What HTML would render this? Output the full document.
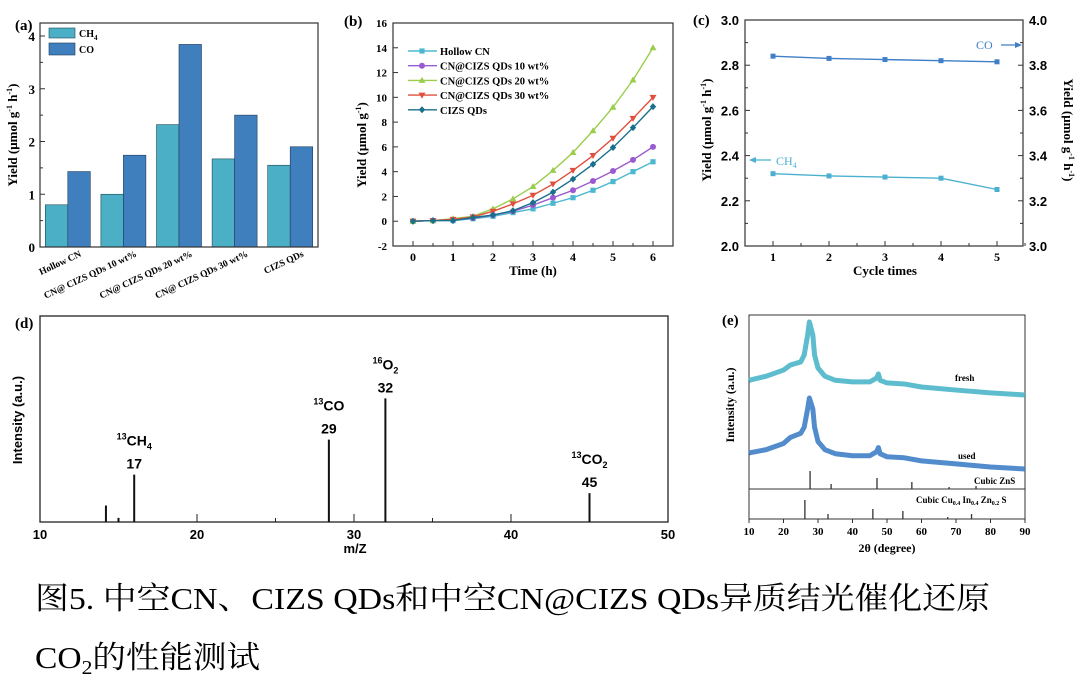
<!DOCTYPE html>
<html><head><meta charset="utf-8"><style>
html,body{margin:0;padding:0;background:#fff;}
svg{display:block;}
.tf{font-family:"Liberation Serif","Noto Serif CJK SC",serif;font-weight:bold;}
.af{font-family:"Liberation Sans",sans-serif;font-weight:bold;}
</style></head><body>
<svg id="fig" width="1080" height="693" viewBox="0 0 1080 693" xmlns="http://www.w3.org/2000/svg">
<g id="ga"></g>
<g id="gb"></g>
<g id="gc"></g>
<g id="gd"></g>
<g id="ge"></g>
<text x="35" y="609" font-family="'Liberation Serif','Noto Serif CJK SC',serif" font-size="31" textLength="955" lengthAdjust="spacingAndGlyphs">图5. 中空CN、CIZS QDs和中空CN@CIZS QDs异质结光催化还原</text>
<text x="35" y="668" font-family="'Liberation Serif','Noto Serif CJK SC',serif" font-size="31" textLength="225" lengthAdjust="spacingAndGlyphs">CO<tspan font-size="20" dy="6">2</tspan><tspan dy="-6">的性能测试</tspan></text>
</svg>
<script>
// ---- Panel a data
const aCategories = ["Hollow CN","CN@ CIZS QDs 10 wt%","CN@ CIZS QDs 20 wt%","CN@ CIZS QDs 30 wt%","CIZS QDs"];
const aCH4 = [0.8,1.0,2.32,1.67,1.55];
const aCO = [1.43,1.74,3.84,2.5,1.9];
const aTicks = [0,1,2,3,4];
// ---- Panel b data
const bTimes = [0,0.5,1,1.5,2,2.5,3,3.5,4,4.5,5,5.5,6];
const bHollow = [0,0.05,0.05,0.2,0.4,0.7,1.0,1.45,1.9,2.5,3.2,4.0,4.8];
const b10 = [0,0.05,0.1,0.25,0.5,0.8,1.3,1.9,2.5,3.25,4.05,4.95,6.0];
const b20 = [0,0.05,0.2,0.4,1.0,1.8,2.8,4.1,5.55,7.3,9.2,11.4,14.0];
const b30 = [0,0.05,0.15,0.35,0.8,1.4,2.1,3.0,4.1,5.3,6.7,8.3,10.0];
const bCIZS = [0,0.05,0.05,0.3,0.5,0.85,1.5,2.35,3.4,4.6,5.95,7.55,9.25];
const bNames = ["Hollow CN","CN@CIZS QDs 10 wt%","CN@CIZS QDs 20 wt%","CN@CIZS QDs 30 wt%","CIZS QDs"];
const bYTicks = [-2,0,2,4,6,8,10,12,14,16];
const bXTicks = [0,1,2,3,4,5,6];
// ---- Panel c data
const cCycles = [1,2,3,4,5];
const cCH4 = [2.32,2.31,2.305,2.30,2.25];
const cCO = [3.84,3.83,3.825,3.82,3.815];
const cLeftTicks = [2.0,2.2,2.4,2.6,2.8,3.0];
const cRightTicks = [3.0,3.2,3.4,3.6,3.8,4.0];
// ---- Panel d data
const dMass = [14.2,15,16,28.4,32,45];
const dIntensity = [0.08,0.02,0.23,0.40,0.60,0.14];
const dXTicks = [10,20,30,40,50];
// ---- Panel e data
const eAngles = [10,15,20,22,25,26,27,27.5,28.5,29,30,32,35,40,45,47,47.5,48,50,55,60,70,80,90];
const eFresh = [68,70,73,75.5,77,80.4,90.2,96.6,90.2,80.4,74,70,68,67.2,67.2,69.1,71.1,68,66.7,66.2,64.7,63.2,61.8,60.8];
const eUsed = [32.4,34,37,40,42,45,54,59.3,54,45,38,34,32,31,31,33,35,32,30.5,30,28.5,27,25.5,24.5];
const eZnSPos = [27.7,33.8,47.1,57.2,68,75.8];
const eZnSInt = [18,5,11,7,2,3];
const eCIZSPos = [26.2,32.9,45.9,54.6,67.6,74.5];
const eCIZSInt = [19,5,10,8,2,5];
const eXTicks = [10,20,30,40,50,60,70,80,90];

const NS="http://www.w3.org/2000/svg";
function mk(parent,tag,attrs,text){const e=document.createElementNS(NS,tag);for(const k in attrs)e.setAttribute(k,attrs[k]);if(text!==undefined)e.textContent=text;parent.appendChild(e);return e;}
function lin(d0,d1,r0,r1){return v=>r0+(v-d0)*(r1-r0)/(d1-d0);}

// ================= Panel a
(function(){
const g=document.getElementById('ga');
const L=40,R=318,T=23,B=247;
const y=lin(0,4,247,36);
const gw=(R-L)/5;
const cx=i=>L+gw*(i+0.5);
let e;
aCategories.forEach((c,i)=>{
 const bw=22.5;
 e=mk(g,'rect',{x:cx(i)-bw,y:y(aCH4[i]),width:bw,height:B-y(aCH4[i]),fill:'#4bafc6',stroke:'#1f4a55','stroke-width':0.6});
 
 
 e=mk(g,'rect',{x:cx(i),y:y(aCO[i]),width:bw,height:B-y(aCO[i]),fill:'#3f7fbd',stroke:'#1f3a5a','stroke-width':0.6});
 
 
 e=mk(g,'text',{x:cx(i)+14,y:256,'text-anchor':'end','font-size':9.5,class:'tf',transform:`rotate(-25 ${cx(i)+14} 256)`},c);
 
 
});
e=mk(g,'rect',{x:L,y:T,width:R-L,height:B-T,fill:'none',stroke:'#333','stroke-width':1.2});


aTicks.forEach(t=>{
 mk(g,'line',{x1:L,x2:L+5,y1:y(t),y2:y(t),stroke:'#333'});
 e=mk(g,'text',{x:L-5,y:y(t)+5,'text-anchor':'end','font-size':13,class:'tf'},t);
 
 
 if(t<4) mk(g,'line',{x1:L,x2:L+3,y1:y(t+0.5),y2:y(t+0.5),stroke:'#333'});
});
e=mk(g,'text',{x:15,y:30,'font-size':15,class:'tf'},'(a)');


e=mk(g,'text',{x:0,y:0,'font-size':13,class:'tf','text-anchor':'middle',transform:'translate(17,135) rotate(-90)'});
e.innerHTML='Yield (μmol g<tspan font-size="8" dy="-5">-1</tspan><tspan dy="5"> h</tspan><tspan font-size="8" dy="-5">-1</tspan><tspan dy="5">)</tspan>';


e=mk(g,'rect',{x:49,y:28,width:26,height:10,fill:'#4bafc6',stroke:'#1f4a55','stroke-width':0.6});


e=mk(g,'rect',{x:49,y:43,width:26,height:12,fill:'#3f7fbd',stroke:'#1f3a5a','stroke-width':0.6});


e=mk(g,'text',{x:79,y:37,'font-size':10,class:'tf'});
e.innerHTML='CH<tspan font-size="7" dy="3">4</tspan>';


e=mk(g,'text',{x:79,y:53,'font-size':10,class:'tf'},'CO');


})();

// ================= Panel b
(function(){
const g=document.getElementById('gb');
const L=393,R=673,T=23,B=246;
const x=lin(0,6,413,653), y=lin(-2,16,246,23);
let e;
e=mk(g,'rect',{x:L,y:T,width:R-L,height:B-T,fill:'none',stroke:'#333','stroke-width':1.2});


bYTicks.forEach(t=>{
 mk(g,'line',{x1:L,x2:L+5,y1:y(t),y2:y(t),stroke:'#333'});
 e=mk(g,'text',{x:L-6,y:y(t)+4,'text-anchor':'end','font-size':11,class:'tf'},t);
 
 
});
bXTicks.forEach(t=>{
 mk(g,'line',{x1:x(t),x2:x(t),y1:B,y2:B-5,stroke:'#333'});
 if(t<6) mk(g,'line',{x1:x(t+0.5),x2:x(t+0.5),y1:B,y2:B-3,stroke:'#333'});
 e=mk(g,'text',{x:x(t),y:B+15,'text-anchor':'middle','font-size':12,class:'tf'},t);
 
 
});
const series=[bHollow,b10,b20,b30,bCIZS];
const cols=['#4bb8d0','#9b5bd0','#9acd4c','#e0503c','#1a6f8a'];
function marker(k,px,py,c){
 if(k===0) return mk(g,'rect',{x:px-2.6,y:py-2.6,width:5.2,height:5.2,fill:c});
 if(k===1) return mk(g,'circle',{cx:px,cy:py,r:3,fill:c});
 if(k===2) return mk(g,'polygon',{points:`${px},${py-3.5} ${px-3.5},${py+2.5} ${px+3.5},${py+2.5}`,fill:c});
 if(k===3) return mk(g,'polygon',{points:`${px},${py+3.5} ${px-3.5},${py-2.5} ${px+3.5},${py-2.5}`,fill:c});
 return mk(g,'polygon',{points:`${px},${py-3.5} ${px+3.2},${py} ${px},${py+3.5} ${px-3.2},${py}`,fill:c});
}
series.forEach((s,k)=>{
 e=mk(g,'polyline',{points:s.map((v,i)=>x(bTimes[i])+','+y(v)).join(' '),fill:'none',stroke:cols[k],'stroke-width':1.4});
 
 
 s.forEach((v,i)=>{const m=marker(k,x(bTimes[i]),y(v),cols[k]);
  
  });
 const ly=51+k*14.7;
 mk(g,'line',{x1:408,x2:437,y1:ly,y2:ly,stroke:cols[k],'stroke-width':1.4});
 marker(k,422,ly,cols[k]);
 e=mk(g,'text',{x:440,y:ly+4,'font-size':10.5,class:'tf'},bNames[k]);
 
 
});
e=mk(g,'text',{x:344,y:26,'font-size':15,class:'tf'},'(b)');


e=mk(g,'text',{x:533,y:275,'font-size':13,class:'tf','text-anchor':'middle'},'Time (h)');


e=mk(g,'text',{x:0,y:0,'font-size':13,class:'tf','text-anchor':'middle',transform:'translate(366,145) rotate(-90)'});
e.innerHTML='Yield (μmol g<tspan font-size="8" dy="-5">-1</tspan><tspan dy="5">)</tspan>';


})();

// ================= Panel c
(function(){
const g=document.getElementById('gc');
const L=745,R=1023,T=20,B=246;
const x=lin(1,5,773,997), yl=lin(2,3,246,20), yr=lin(3,4,246,20);
let e;
e=mk(g,'rect',{x:L,y:T,width:R-L,height:B-T,fill:'none',stroke:'#333','stroke-width':1.2});


cLeftTicks.forEach((t,i)=>{
 mk(g,'line',{x1:L,x2:L+5,y1:yl(t),y2:yl(t),stroke:'#333'});
 mk(g,'line',{x1:R,x2:R-5,y1:yl(t),y2:yl(t),stroke:'#333'});
 if(i<5){mk(g,'line',{x1:L,x2:L+3,y1:yl(t+0.1),y2:yl(t+0.1),stroke:'#333'});mk(g,'line',{x1:R,x2:R-3,y1:yl(t+0.1),y2:yl(t+0.1),stroke:'#333'});}
 e=mk(g,'text',{x:L-6,y:yl(t)+5,'text-anchor':'end','font-size':13,class:'af'},t.toFixed(1));
 
 
});
cRightTicks.forEach(t=>{
 e=mk(g,'text',{x:R+6,y:yr(t)+5,'font-size':13,class:'af'},t.toFixed(1));
 
 
});
cCycles.forEach(t=>{
 mk(g,'line',{x1:x(t),x2:x(t),y1:B,y2:B-5,stroke:'#333'});
 mk(g,'line',{x1:x(t)+28,x2:x(t)+28,y1:B,y2:B-3,stroke:'#333'});
 e=mk(g,'text',{x:x(t),y:B+15,'text-anchor':'middle','font-size':12,class:'tf'},t);
 
 
});
e=mk(g,'polyline',{points:cCO.map((v,i)=>x(cCycles[i])+','+yr(v)).join(' '),fill:'none',stroke:'#3f7fc8','stroke-width':1.4});


e=mk(g,'polyline',{points:cCH4.map((v,i)=>x(cCycles[i])+','+yl(v)).join(' '),fill:'none',stroke:'#4bb0d0','stroke-width':1.4});


cCycles.forEach((c,i)=>{
 e=mk(g,'rect',{x:x(c)-2.5,y:yr(cCO[i])-2.5,width:5,height:5,fill:'#3f7fc8'});
 
 
 e=mk(g,'rect',{x:x(c)-2.5,y:yl(cCH4[i])-2.5,width:5,height:5,fill:'#4bb0d0'});
 
 
});
e=mk(g,'text',{x:976,y:49,'font-size':12,fill:'#3f7fc8','font-family':'Liberation Serif,serif'},'CO');


mk(g,'line',{x1:1001,x2:1018,y1:45,y2:45,stroke:'#3f7fc8','stroke-width':1.2});
mk(g,'polygon',{points:'1022,45 1015,42 1015,48',fill:'#3f7fc8'});
e=mk(g,'text',{x:776,y:165,'font-size':12,fill:'#4bb0d0','font-family':'Liberation Serif,serif'});
e.innerHTML='CH<tspan font-size="8" dy="3">4</tspan>';


mk(g,'line',{x1:753,x2:771,y1:160,y2:160,stroke:'#4bb0d0','stroke-width':1.2});
mk(g,'polygon',{points:'749,160 756,157 756,163',fill:'#4bb0d0'});
e=mk(g,'text',{x:693,y:25,'font-size':15,class:'tf'},'(c)');


e=mk(g,'text',{x:885,y:275,'font-size':13,class:'tf','text-anchor':'middle'},'Cycle times');


e=mk(g,'text',{x:0,y:0,'font-size':13,class:'tf','text-anchor':'middle',transform:'translate(711,130) rotate(-90)'});
e.innerHTML='Yield (μmol g<tspan font-size="8" dy="-5">-1</tspan><tspan dy="5"> h</tspan><tspan font-size="8" dy="-5">-1</tspan><tspan dy="5">)</tspan>';


e=mk(g,'text',{x:0,y:0,'font-size':13,class:'tf','text-anchor':'middle',transform:'translate(1064,130) rotate(90)'});
e.innerHTML='Yield (μmol g<tspan font-size="8" dy="-5">-1</tspan><tspan dy="5"> h</tspan><tspan font-size="8" dy="-5">-1</tspan><tspan dy="5">)</tspan>';


})();

// ================= Panel d
(function(){
const g=document.getElementById('gd');
const L=40,R=668,T=316,B=522;
const x=lin(10,50,L,R), y=lin(0,1,B,T);
let e;
e=mk(g,'rect',{x:L,y:T,width:R-L,height:B-T,fill:'none',stroke:'#222','stroke-width':1.3});


dXTicks.forEach(t=>{
 mk(g,'line',{x1:x(t),x2:x(t),y1:B,y2:B-8,stroke:'#222'});
 if(t<50) mk(g,'line',{x1:x(t+5),x2:x(t+5),y1:B,y2:B-4,stroke:'#222'});
 e=mk(g,'text',{x:x(t),y:B+17,'text-anchor':'middle','font-size':13,class:'af'},t);
 
 
});
dMass.forEach((m,i)=>{
 e=mk(g,'line',{x1:x(m),x2:x(m),y1:B,y2:y(dIntensity[i]),stroke:'#111','stroke-width':2});
 
 
});
const labs=[[2,'<tspan font-size="9" dy="-6">13</tspan><tspan dy="6">CH</tspan><tspan font-size="9" dy="4">4</tspan>','17'],
 [3,'<tspan font-size="9" dy="-6">13</tspan><tspan dy="6">CO</tspan>','29'],
 [4,'<tspan font-size="9" dy="-6">16</tspan><tspan dy="6">O</tspan><tspan font-size="9" dy="4">2</tspan>','32'],
 [5,'<tspan font-size="9" dy="-6">13</tspan><tspan dy="6">CO</tspan><tspan font-size="9" dy="4">2</tspan>','45']];
labs.forEach(([i,h,n])=>{
 const px=x(dMass[i]), py=y(dIntensity[i]);
 e=mk(g,'text',{x:px,y:py-29,'text-anchor':'middle','font-size':14,class:'af'});
 e.innerHTML=h;
 
 
 e=mk(g,'text',{x:px,y:py-6,'text-anchor':'middle','font-size':14,class:'af'},n);
 
 
});
e=mk(g,'text',{x:15,y:328,'font-size':15,class:'tf'},'(d)');


e=mk(g,'text',{x:355,y:553,'text-anchor':'middle','font-size':13,class:'af'},'m/Z');


e=mk(g,'text',{x:0,y:0,'font-size':13,class:'af','text-anchor':'middle',transform:'translate(22,420) rotate(-90)'},'Intensity (a.u.)');


})();

// ================= Panel e
(function(){
const g=document.getElementById('ge');
const L=749,R=1025,T=315,B=519,D=489;
const x=lin(10,90,L,R), y=lin(0,100,B,B-204);
let e;
e=mk(g,'rect',{x:L,y:T,width:R-L,height:B-T,fill:'none',stroke:'#333','stroke-width':1});


mk(g,'line',{x1:L,x2:R,y1:D,y2:D,stroke:'#333'});
eXTicks.forEach(t=>{
 mk(g,'line',{x1:x(t),x2:x(t),y1:B,y2:B+4,stroke:'#333'});
 e=mk(g,'text',{x:x(t),y:B+16,'text-anchor':'middle','font-size':11,class:'tf'},t);
 
 
});
[[eFresh,'#4bb5c8','xrd-fresh'],[eUsed,'#3f7fc6','xrd-used']].forEach(([s,c,n])=>{
 e=mk(g,'polyline',{points:s.map((v,i)=>x(eAngles[i])+','+y(v)).join(' '),fill:'none',stroke:c,'stroke-width':5,'stroke-linejoin':'round','stroke-opacity':0.9});
 
 
});
eZnSPos.forEach((p,i)=>{
 e=mk(g,'line',{x1:x(p),x2:x(p),y1:D,y2:D-eZnSInt[i],stroke:'#333','stroke-width':1.3});
 
 
});
eCIZSPos.forEach((p,i)=>{
 e=mk(g,'line',{x1:x(p),x2:x(p),y1:B,y2:B-eCIZSInt[i],stroke:'#333','stroke-width':1.3});
 
 
});
e=mk(g,'text',{x:955,y:381,'font-size':9,class:'tf'},'fresh');


e=mk(g,'text',{x:958,y:459,'font-size':9,class:'tf'},'used');


e=mk(g,'text',{x:974,y:484,'font-size':9,class:'tf'},'Cubic ZnS');


e=mk(g,'text',{x:916,y:503,'font-size':9,class:'tf'});
e.innerHTML='Cubic Cu<tspan font-size="6" dy="2">0.4</tspan><tspan dy="-2"> In</tspan><tspan font-size="6" dy="2">0.4</tspan><tspan dy="-2"> Zn</tspan><tspan font-size="6" dy="2">0.2</tspan><tspan dy="-2"> S</tspan>';


e=mk(g,'text',{x:722,y:325,'font-size':15,class:'tf'},'(e)');


e=mk(g,'text',{x:887,y:552,'text-anchor':'middle','font-size':12,class:'tf'},'2θ (degree)');


e=mk(g,'text',{x:0,y:0,'font-size':12,class:'tf','text-anchor':'middle',transform:'translate(734,405) rotate(-90)'},'Intensity (a.u.)');


})();
</script>
</body></html>
